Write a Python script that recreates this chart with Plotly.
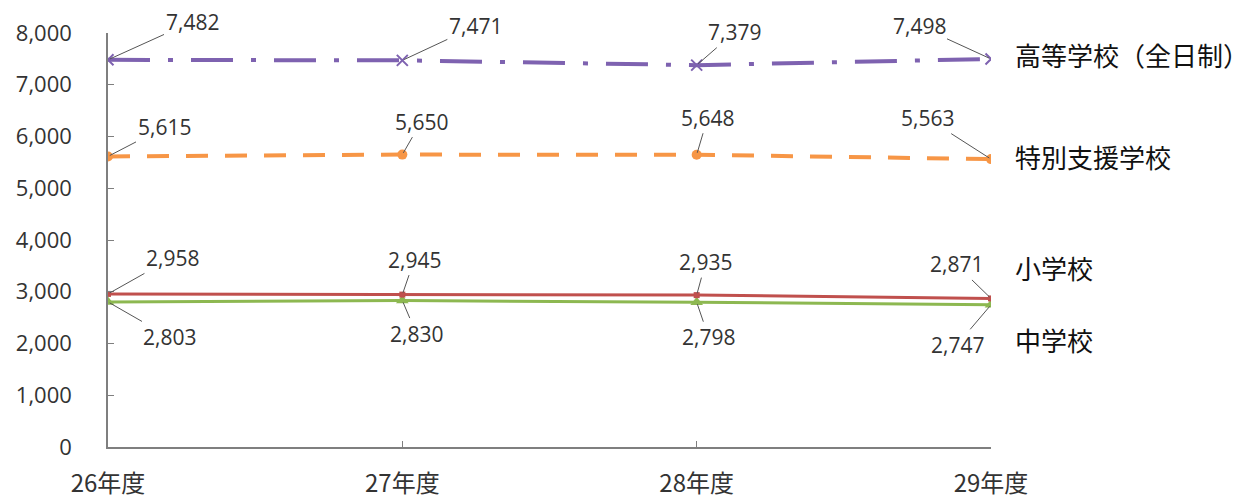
import plotly.graph_objects as go

years = ["26年度", "27年度", "28年度", "29年度"]
koko = [7482, 7471, 7379, 7498]
tokubetsu = [5615, 5650, 5648, 5563]
shogakko = [2958, 2945, 2935, 2871]
chugakko = [2803, 2830, 2798, 2747]
y_ticks = [0, 1000, 2000, 3000, 4000, 5000, 6000, 7000, 8000]

# label offsets (pixels) for each data label: (ax, ay)
koko_off = [(84, -38), (73, -34), (38, -33), (-72, -33)]
tokubetsu_off = [(56, -29), (19, -33), (11, -37), (-64, -41)]
sho_off = [(64, -36), (12, -35), (9, -33), (-35, -34)]
chu_off = [(61, 35), (14, 33), (12, 35), (-34, 40)]

NUM_FONT = "Open Sans, DejaVu Sans, sans-serif"
JP_FONT = "Noto Sans CJK JP"

W, H = 1259, 499
L, R, T, B = 108, 268, 33, 52

fig = go.Figure()

fig.add_trace(go.Scatter(
    x=years, y=chugakko, mode="lines+markers", name="中学校",
    line=dict(color="#8db851", width=3),
    marker=dict(symbol="triangle-up", size=11, color="#8db851"),
))
fig.add_trace(go.Scatter(
    x=years, y=shogakko, mode="lines+markers", name="小学校",
    line=dict(color="#c0504d", width=3),
    marker=dict(symbol="square", size=6, color="#c0504d"),
))
fig.add_trace(go.Scatter(
    x=years, y=tokubetsu, mode="lines+markers", name="特別支援学校",
    line=dict(color="#f79646", width=4, dash="22px,17px"),
    marker=dict(symbol="circle", size=10, color="#f79646"),
))
fig.add_trace(go.Scatter(
    x=years, y=koko, mode="lines+markers", name="高等学校（全日制）",
    line=dict(color="#7e62b0", width=4, dash="42px,18px,5px,18px"),
    marker=dict(symbol="x-thin", size=11, color="#7e62b0",
                line=dict(width=2, color="#7e62b0")),
))

annotations = []
for vals, offs in [(koko, koko_off), (tokubetsu, tokubetsu_off),
                   (shogakko, sho_off), (chugakko, chu_off)]:
    for yr, v, (ax, ay) in zip(years, vals, offs):
        annotations.append(dict(
            x=yr, y=v, xref="x", yref="y", text=f"{v:,}",
            showarrow=True, arrowhead=0, arrowwidth=1, arrowcolor="#555555",
            ax=ax, ay=ay, standoff=2,
            font=dict(family=NUM_FONT, size=21, color="#333333"),
        ))

# series names to the right of the plot (pixel positions -> paper coords)
for name, ypix in [("高等学校（全日制）", 54), ("特別支援学校", 156),
                   ("小学校", 267), ("中学校", 339)]:
    annotations.append(dict(
        x=(1013 - L) / (W - L - R), y=1 - (ypix - T) / (H - T - B),
        xref="paper", yref="paper",
        xanchor="left", yanchor="middle", showarrow=False, text=name,
        font=dict(family=JP_FONT, size=26, color="#111111"),
    ))

fig.update_layout(
    width=W, height=H,
    margin=dict(l=L, r=R, t=T, b=B),
    paper_bgcolor="white", plot_bgcolor="white",
    showlegend=False,
    annotations=annotations,
    xaxis=dict(
        showgrid=False, zeroline=False, showline=True, linecolor="#7f7f7f",
        linewidth=1.5, ticks="inside", ticklen=6, tickcolor="#7f7f7f",
        range=[0, 3], tickfont=dict(family=JP_FONT, size=24, color="#333333"),
        ticklabelstandoff=14, automargin=False,
    ),
    yaxis=dict(
        showgrid=False, zeroline=False, showline=True, linecolor="#7f7f7f",
        linewidth=1.5, ticks="inside", ticklen=6, tickcolor="#7f7f7f",
        range=[0, 8000], tickvals=y_ticks,
        ticktext=[f"{t:,}" for t in y_ticks],
        tickfont=dict(family=NUM_FONT, size=22, color="#333333"),
        ticklabelstandoff=30, automargin=False,
    ),
)

fig.write_html("out.html")
